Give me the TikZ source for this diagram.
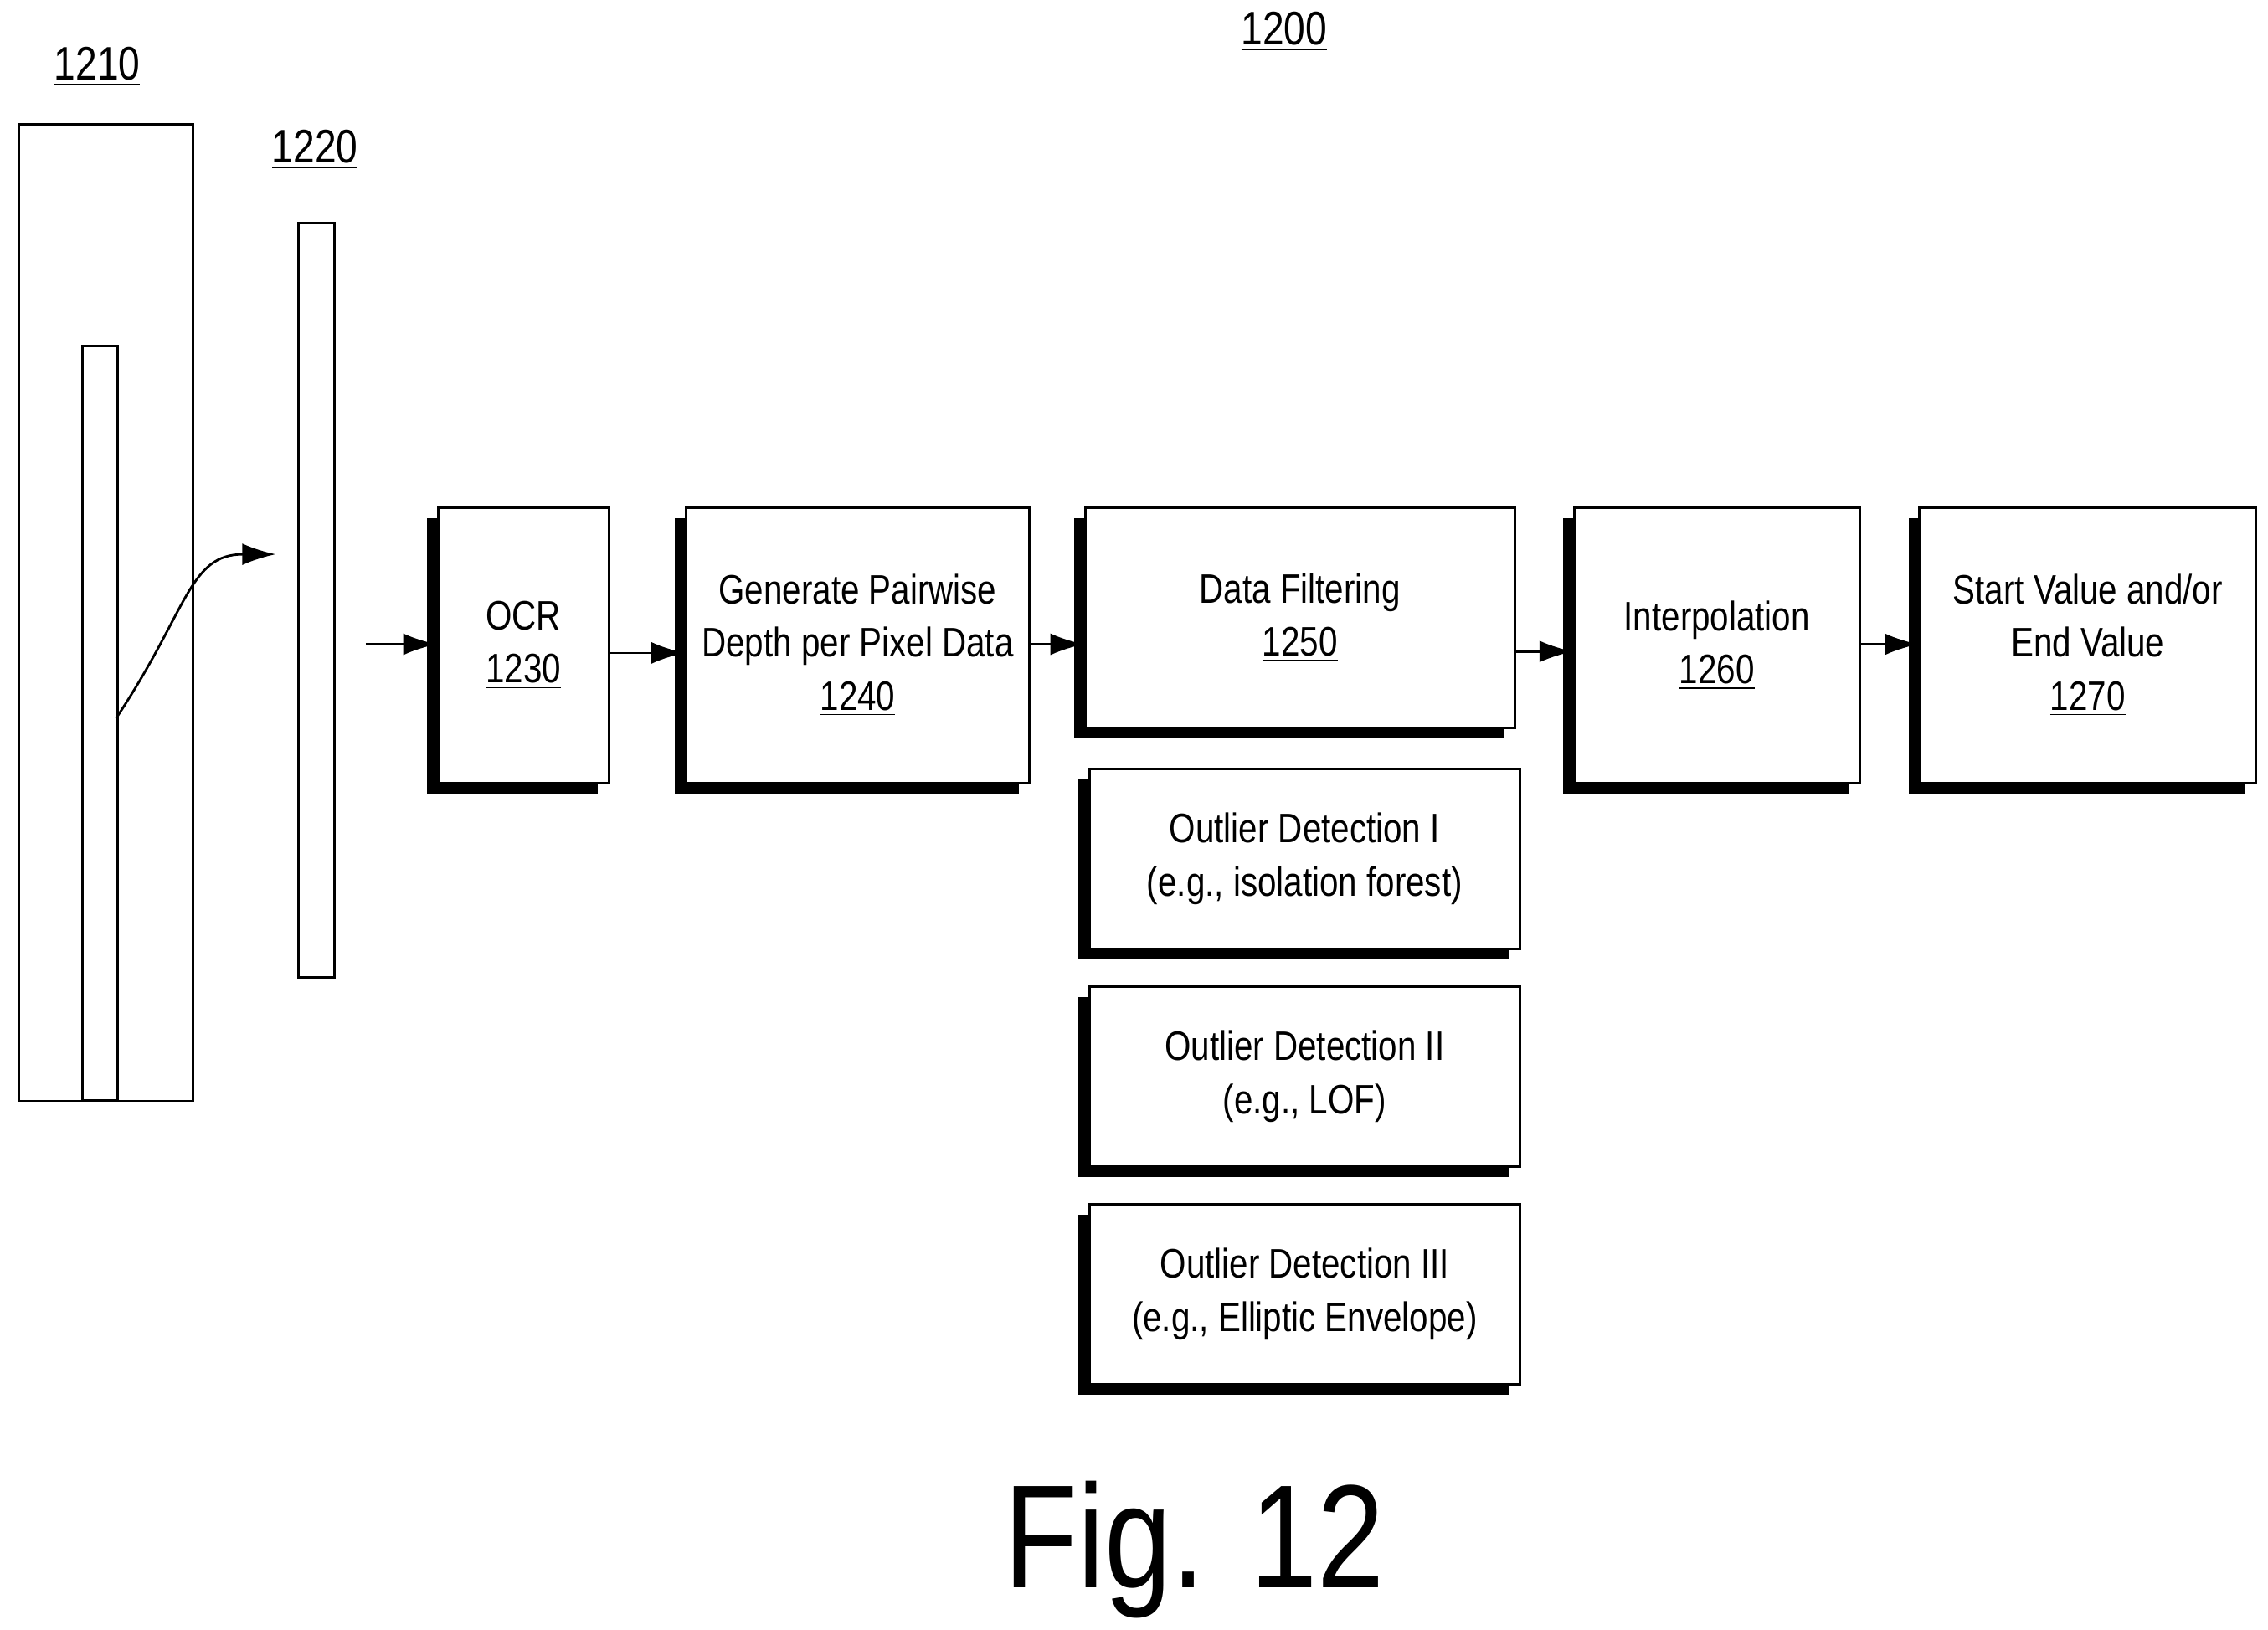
\documentclass[tikz,border=0pt]{standalone}
\usepackage{fontspec}
\setmainfont{Liberation Sans}[FakeStretch=0.82]
\usetikzlibrary{shadows,arrows.meta}

\begin{document}
\begin{tikzpicture}[x=0.1733mm, y=-0.1733mm, >={Latex[length=4mm, width=2.6mm]}]
		\draw[draw=none, use as bounding box] (0,0) rectangle (1563,1123);

		\tikzset{
			blk/.style={draw=black, thick, fill=white, align=center, anchor=north west, inner sep=0pt,
				font=\fontsize{14}{18}\selectfont,
				drop shadow={shadow xshift=-1.3mm, shadow yshift=-1.3mm, fill=black, opacity=1}},
			lbl/.style={font=\fontsize{16}{18}\selectfont}
		}

		% Labels
		\node[lbl] (l1200) at (885,22) {\underline{1200}};
		\node[lbl] (l1210) at (67,46) {\underline{1210}};
		\node[lbl] (l1220) at (217,103) {\underline{1220}};

		% Images
		\node[draw=black, thick, anchor=north west, minimum width=20.8mm, minimum height=116.6mm, inner sep=0pt] (img) at (12,85) {};
		\node[draw=black, thick, anchor=north west, minimum width=4.2mm, minimum height=90mm, inner sep=0pt] (strip) at (56,238) {};
		\node[draw=black, thick, anchor=north west, minimum width=4.3mm, minimum height=90.1mm, inner sep=0pt] (crop) at (205,153) {};
		\coordinate (cin) at (190,382);
		\coordinate (ocrin) at (252,444);

		% Boxes
		\node[blk, minimum width=20.4mm, minimum height=32.9mm] (ocr) at (301,349) {OCR\\\underline{1230}};
		\node[blk, minimum width=41mm, minimum height=32.9mm] (depth) at (472,349) {Generate Pairwise\\Depth per Pixel Data\\\underline{1240}};
		\node[blk, minimum width=51.3mm, minimum height=26.3mm] (filter) at (747,349) {Data Filtering\\\underline{1250}};
		\node[blk, minimum width=34.1mm, minimum height=32.9mm] (interp) at (1084,349) {Interpolation\\\underline{1260}};
		\node[blk, minimum width=40.2mm, minimum height=32.9mm] (value) at (1322,349) {Start Value and/or\\End Value\\\underline{1270}};

		\node[blk, minimum width=51.4mm, minimum height=21.5mm] (od1) at (750,529) {Outlier Detection I\\(e.g., isolation forest)};
		\node[blk, minimum width=51.4mm, minimum height=21.5mm] (od2) at (750,679) {Outlier Detection II\\(e.g., LOF)};
		\node[blk, minimum width=51.4mm, minimum height=21.5mm] (od3) at (750,829) {Outlier Detection III\\(e.g., Elliptic Envelope)};

		\node[font=\fontsize{50}{56}\selectfont] (fig) at (823,1068) {Fig. 12};

		% Arrows
		\draw[thick, ->] (80,495) .. controls (130,420) and (130,382) .. (cin);
		\draw[thick, ->] (ocrin) -- (ocr.west |- ocrin);
		\draw[thick, ->] (ocr.east |- 0,450) -- (depth.west |- 0,450);
		\draw[thick, ->] (depth.east |- 0,444) -- (filter.west |- 0,444);
		\draw[thick, ->] (filter.east |- 0,449) -- (interp.west |- 0,449);
		\draw[thick, ->] (interp.east |- 0,444) -- (value.west |- 0,444);
	\end{tikzpicture}
\end{document}
